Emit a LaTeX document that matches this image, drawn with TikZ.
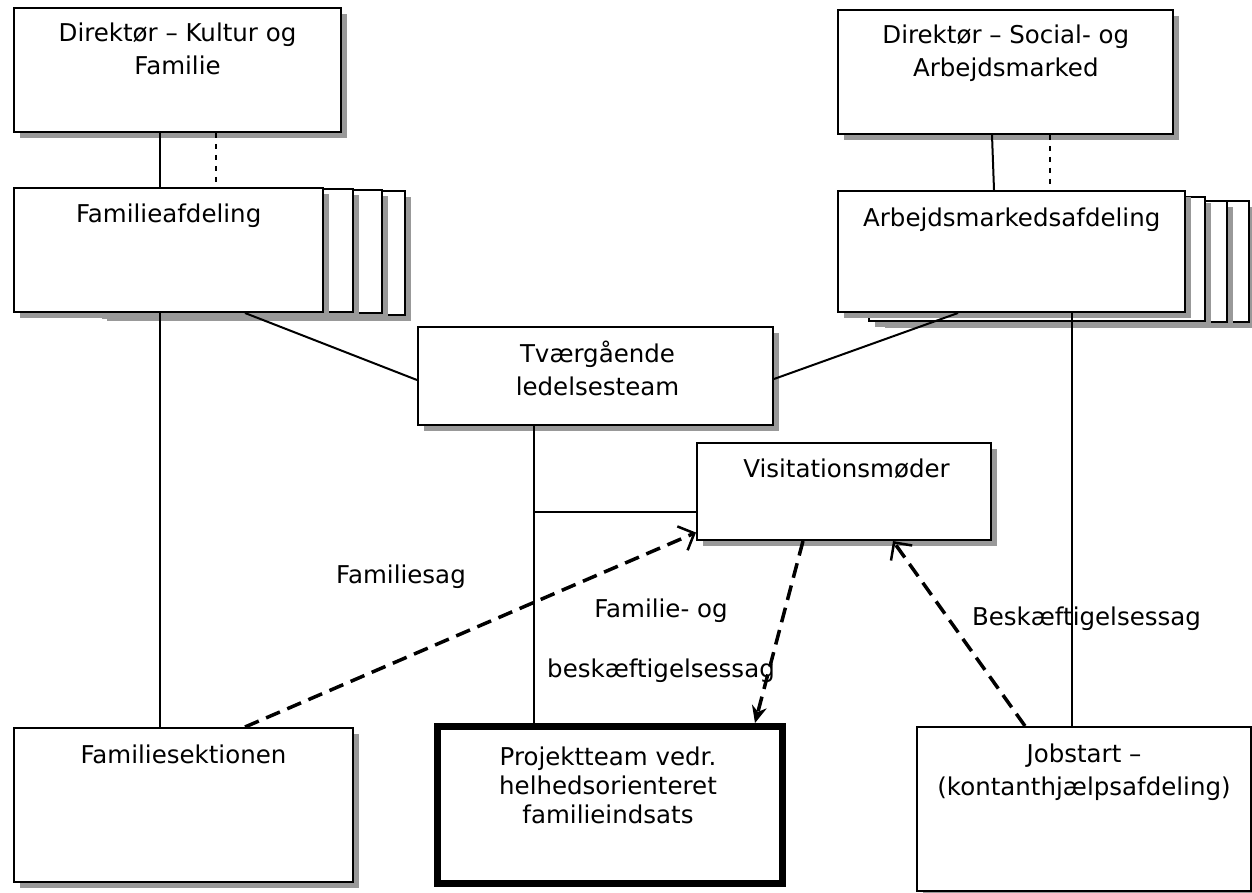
\documentclass[tikz,border=0pt]{standalone}
\usepackage{fontspec}
\setmainfont{DejaVu Sans}
\usetikzlibrary{shadows,arrows.meta}
\tikzset{
  box/.style={draw, line width=2pt, fill=white, inner sep=0pt, anchor=north west,
    drop shadow={shadow xshift=6pt, shadow yshift=-6pt, fill=black!40, opacity=1}},
  boldbox/.style={draw, line width=7pt, fill=white, inner sep=0pt, anchor=north west},
  txt/.style={align=center, inner sep=0pt, anchor=base, font=\fontsize{24.5pt}{33pt}\selectfont},
  conn/.style={line width=2pt},
  thindash/.style={line width=2pt, dash pattern=on 5pt off 6pt},
  flow/.style={line width=3.5pt, dash pattern=on 15pt off 8pt},
  openhead/.style={flow, -{Straight Barb[length=13pt,width=26pt,line width=2.5pt]}},
  fillhead/.style={flow, -{Stealth[length=17pt,width=15pt]}}
}
\begin{document}
\begin{tikzpicture}[x=1pt,y=-1pt]
\useasboundingbox (0,0) rectangle (1252,893);
\fill[white] (0,0) rectangle (1252,893);

% boxes
\node[box, minimum width=327pt, minimum height=124pt] (dkf) at (13,7) {};
\node[box, minimum width=304pt, minimum height=124pt] (fam4) at (100,190) {};
\node[box, minimum width=286pt, minimum height=123pt] (fam3) at (95,189) {};
\node[box, minimum width=262pt, minimum height=123pt] (fam2) at (90,188) {};
\node[box, minimum width=309pt, minimum height=124pt] (fam) at (13,187) {};

\node[box, minimum width=335pt, minimum height=124pt] (dsa) at (837,9) {};
\node[box, minimum width=366pt, minimum height=121pt] (arb4) at (882,200) {};
\node[box, minimum width=348pt, minimum height=121pt] (arb3) at (878,200) {};
\node[box, minimum width=336pt, minimum height=124pt] (arb2) at (868,196) {};
\node[box, minimum width=347pt, minimum height=121pt] (arb) at (837,190) {};

\node[box, minimum width=355pt, minimum height=98pt] (tv) at (417,326) {};
\node[box, minimum width=294pt, minimum height=97pt] (vis) at (696,442) {};
\node[box, minimum width=339pt, minimum height=154pt] (fs) at (13,727) {};
\node[boldbox, minimum width=345pt, minimum height=157pt] (proj) at (434,723) {};
\node[box, minimum width=334pt, minimum height=164pt] (job) at (916,726) {};

% texts (anchor=base is the baseline of the last line)
\node[txt] (dkft) at (177.5,75) {Direktør – Kultur og\\Familie};
\node[txt] (famt) at (168.7,223) {Familieafdeling};
\node[txt] (dsat) at (1005.8,77) {Direktør – Social- og\\Arbejdsmarked};
\node[txt] (arbt) at (1011.7,227) {Arbejdsmarkedsafdeling};
\node[txt] (tvt) at (597.5,395) {Tværgående\\ledelsesteam};
\node[txt] (vist) at (846.5,477) {Visitationsmøder};
\node[txt] (fst) at (183.5,763) {Familiesektionen};
\node[txt, font=\fontsize{24.5pt}{29pt}\selectfont] (projt) at (608,823) {Projektteam vedr.\\helhedsorienteret\\familieindsats};
\node[txt] (jobt) at (1084,795) {Jobstart –\\(kontanthjælpsafdeling)};

% hierarchy connectors
\draw[conn] ([xshift=147pt]dkf.south west) -- ([xshift=147pt]fam.north west);
\draw[thindash] ([xshift=203pt]dkf.south west) -- ([xshift=203pt]fam.north west);
\draw[conn] ([xshift=155pt]dsa.south west) -- ([xshift=157pt]arb.north west);
\draw[thindash] ([xshift=213pt]dsa.south west) -- ([xshift=213pt]arb.north west);
\draw[conn] ([xshift=147pt]fam.south west) -- ([xshift=147pt]fs.north west);
\draw[conn] ([xshift=232pt]fam.south west) -- ([yshift=-4pt]tv.west);
\draw[conn] ([xshift=121pt]arb.south west) -- ([yshift=-3pt]tv.east);
\draw[conn] ([xshift=235pt]arb.south west) -- ([xshift=156pt]job.north west);
\coordinate (tvp) at ([xshift=117pt]tv.south west);
\draw[conn] (tvp) -- ([xshift=100pt]proj.north west);
\coordinate (vj) at ([yshift=-20pt]vis.west);
\draw[conn] (vj) -- (vj -| tvp);

% flows
\draw[openhead] ([xshift=232pt]fs.north west) -- ([yshift=-41pt]vis.west);
\draw[fillhead] ([xshift=107pt]vis.south west) -- ([xshift=321pt]proj.north west);
\draw[openhead] ([xshift=109pt]job.north west) -- ([xshift=197pt]vis.south west);

% flow labels
\node[txt] (lfam) at (401,583) {Familiesag};
\node[txt] (lfob) at (661,677) {Familie- og\\[27pt]beskæftigelsessag};
\node[txt] (lbes) at (1086.5,625) {Beskæftigelsessag};
\end{tikzpicture}
\end{document}
